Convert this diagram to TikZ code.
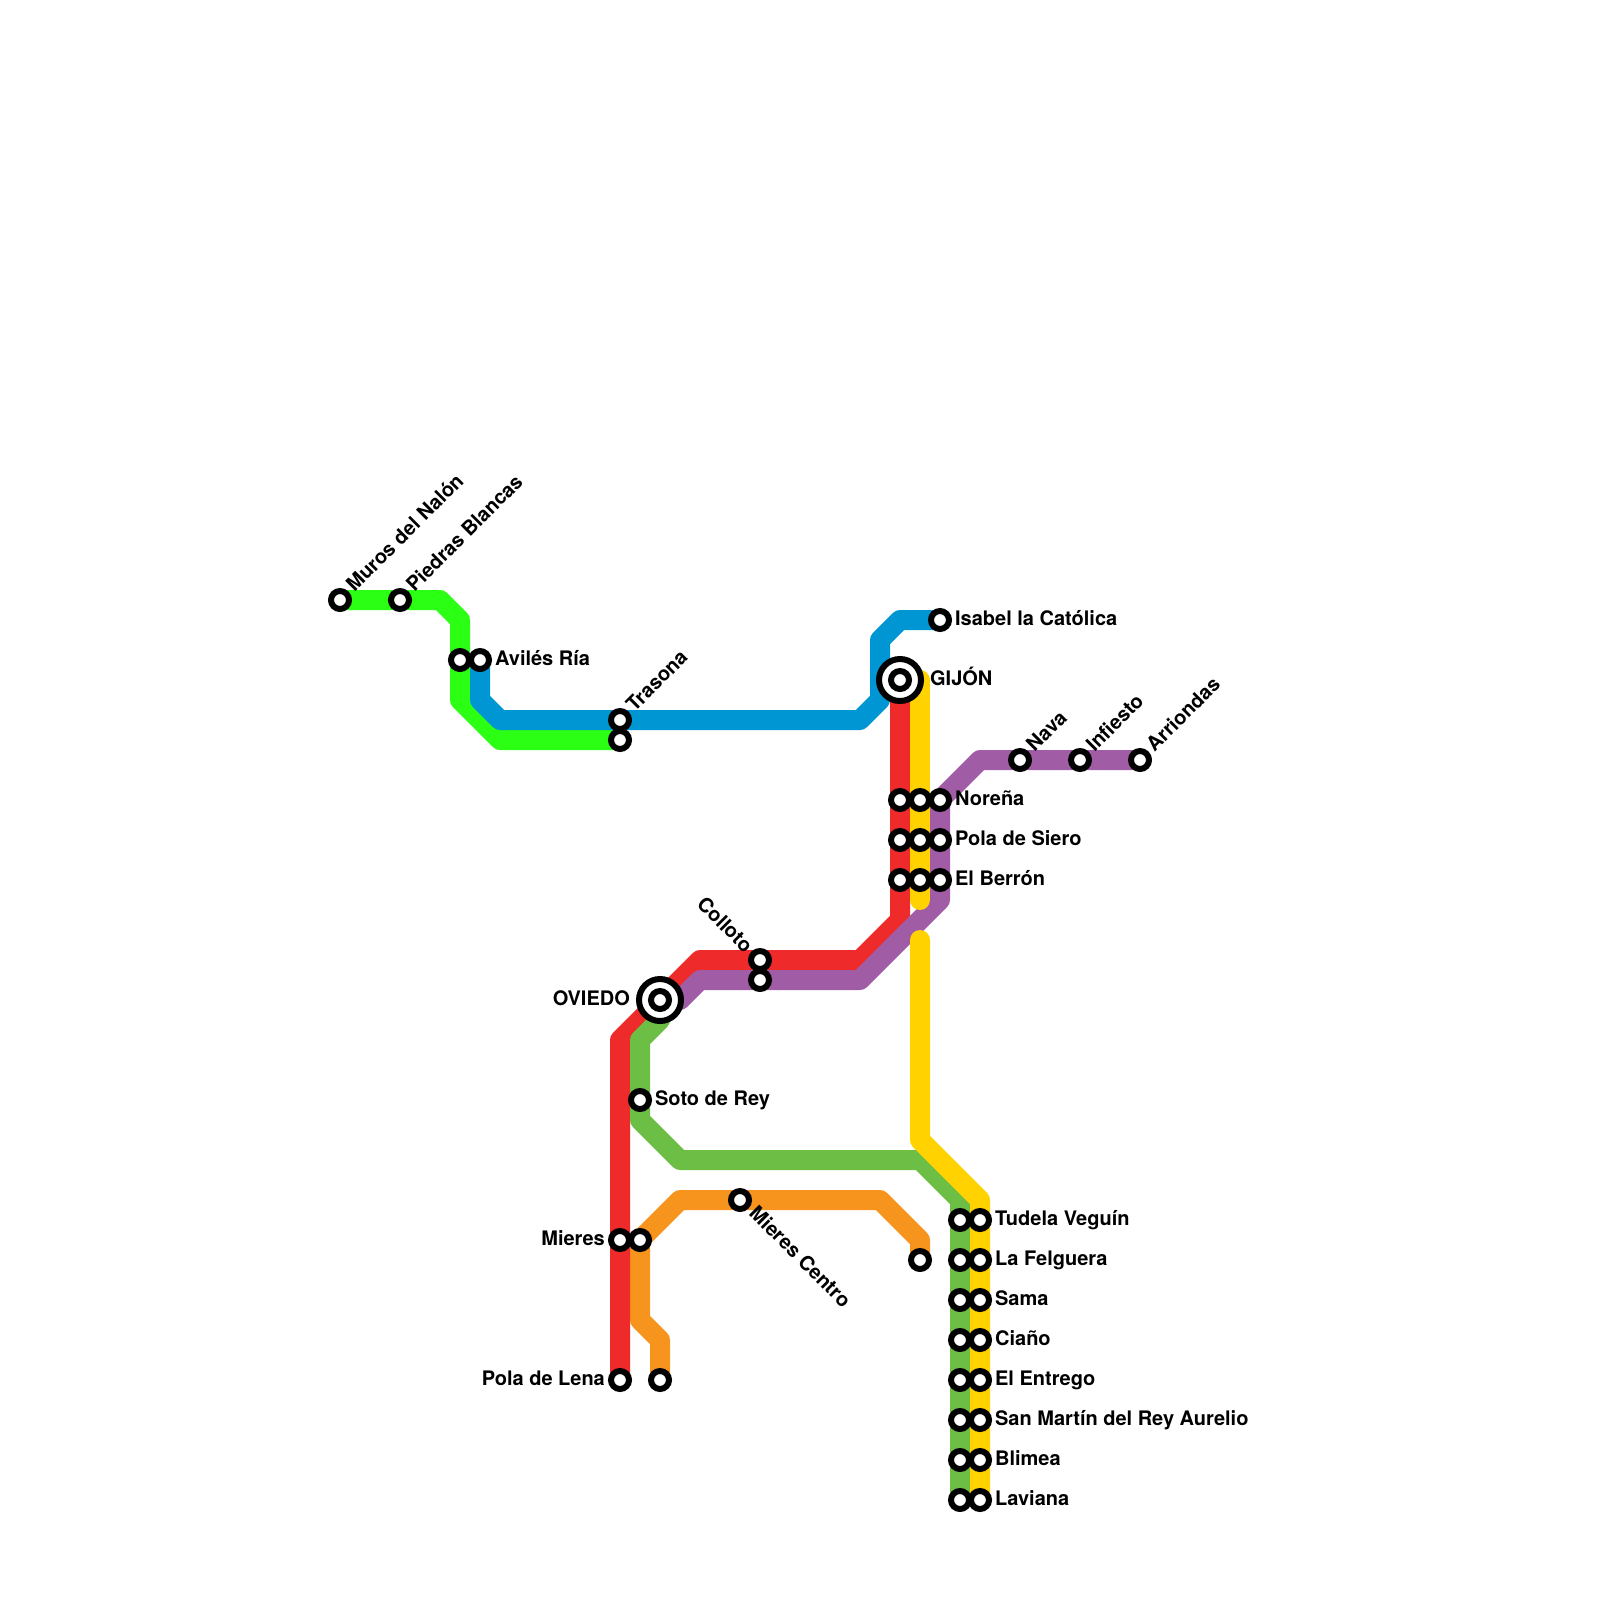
\documentclass[tikz,border=0pt]{standalone}
\usepackage{fontspec}
\setmainfont{TeX Gyre Heros}
\usetikzlibrary{backgrounds}
\definecolor{linelime}{HTML}{2BFF14}
\definecolor{lineblue}{HTML}{0095D3}
\definecolor{linered}{HTML}{EE2A2A}
\definecolor{linepurple}{HTML}{A05DA5}
\definecolor{linegreen}{HTML}{6CBE45}
\definecolor{lineyellow}{HTML}{FFD200}
\definecolor{lineorange}{HTML}{F7941D}
\tikzset{
  metro/.style={line width=1cm, line join=round, line cap=round},
  stn/.style={circle, draw=black, fill=white, line width=0.3cm, minimum size=0.9cm, inner sep=0pt},
  hub/.style={circle, draw=black, fill=white, line width=0.3cm, minimum size=2.1cm, inner sep=0pt},
  lbl/.style={inner sep=0pt, font=\fontsize{28.45}{32}\selectfont\bfseries},
  lblr/.style={lbl, anchor=base west, xshift=0.75cm, yshift=-0.25cm},
  lbll/.style={lbl, anchor=base east, xshift=-0.75cm, yshift=-0.25cm},
  lblne/.style={lbl, anchor=base west, rotate=45, xshift=0.77cm, yshift=-0.26cm},
  lblse/.style={lbl, anchor=base west, rotate=-45, xshift=0.79cm, yshift=-0.22cm},
  lblnw/.style={lbl, anchor=base east, rotate=-45, xshift=-0.77cm, yshift=-0.33cm},
}
\begin{document}
\begin{tikzpicture}[x=1cm, y=-1cm]
  \useasboundingbox (0,0) rectangle (80,80);
  % Place the interchange rings
  \node[hub] (gijonhub) at (45,34) {};
  \node[hub] (oviedohub) at (33,50) {};
  % Place the stations
  \node[stn] (muros) at (17,30) {};
  \node[stn] (piedras) at (20,30) {};
  \node[stn] (avileslime) at (23,33) {};
  \node[stn] (aviles) at (24,33) {};
  \node[stn] (trasona) at (31,36) {};
  \node[stn] (trasonalime) at (31,37) {};
  \node[stn] (isabel) at (47,31) {};
  \node[stn] (gijon) at (45,34) {};
  \node[stn] (nava) at (51,38) {};
  \node[stn] (infiesto) at (54,38) {};
  \node[stn] (arriondas) at (57,38) {};
  \node[stn] (norenared) at (45,40) {};
  \node[stn] (norenayellow) at (46,40) {};
  \node[stn] (norena) at (47,40) {};
  \node[stn] (polared) at (45,42) {};
  \node[stn] (polayellow) at (46,42) {};
  \node[stn] (pola) at (47,42) {};
  \node[stn] (berronred) at (45,44) {};
  \node[stn] (berronyellow) at (46,44) {};
  \node[stn] (berron) at (47,44) {};
  \node[stn] (colloto) at (38,48) {};
  \node[stn] (collotopurple) at (38,49) {};
  \node[stn] (oviedo) at (33,50) {};
  \node[stn] (soto) at (32,55) {};
  \node[stn] (mierescentro) at (37,60) {};
  \node[stn] (mieres) at (31,62) {};
  \node[stn] (mieresorange) at (32,62) {};
  \node[stn] (felgueraorange) at (46,63) {};
  \node[stn] (lena) at (31,69) {};
  \node[stn] (lenaorange) at (33,69) {};
  \node[stn] (tudelagreen) at (48,61) {};
  \node[stn] (tudela) at (49,61) {};
  \node[stn] (felgueragreen) at (48,63) {};
  \node[stn] (felguera) at (49,63) {};
  \node[stn] (samagreen) at (48,65) {};
  \node[stn] (sama) at (49,65) {};
  \node[stn] (cianogreen) at (48,67) {};
  \node[stn] (ciano) at (49,67) {};
  \node[stn] (entregogreen) at (48,69) {};
  \node[stn] (entrego) at (49,69) {};
  \node[stn] (martingreen) at (48,71) {};
  \node[stn] (martin) at (49,71) {};
  \node[stn] (blimeagreen) at (48,73) {};
  \node[stn] (blimea) at (49,73) {};
  \node[stn] (lavianagreen) at (48,75) {};
  \node[stn] (laviana) at (49,75) {};
  % Free line ends
  \coordinate (yellowtop) at (46,34);
  \coordinate (yellowgapa) at (46,45);
  \coordinate (yellowgapb) at (46,47);
  % Draw the lines under the stations
  \begin{scope}[on background layer]
    \draw[metro, linelime] (muros.center) -- (22,30) -- (23,31) -- (23,35) -- (25,37) -- (trasonalime.center);
    \draw[metro, lineblue] (aviles.center) -- (24,35) -- (25,36) -- (43,36) -- (44,35) -- (44,32) -- (45,31) -- (isabel.center);
    \draw[metro, lineorange] (lenaorange.center) -- (33,67) -- (32,66) -- (32,62) -- (34,60) -- (44,60) -- (46,62) -- (felgueraorange.center);
    \draw[metro, linered] (gijon.center) -- (45,46) -- (43,48) -- (35,48) -- (31,52) -- (lena.center);
    \draw[metro, linepurple] (arriondas.center) -- (49,38) -- (47,40) -- (47,45) -- (43,49) -- (35,49) -- (34,50) -- (oviedo.center);
    \draw[metro, linegreen] (oviedo.center) -- (33,51) -- (32,52) -- (32,56) -- (34,58) -- (46,58) -- (48,60) -- (lavianagreen.center);
    \draw[metro, lineyellow] (yellowtop) -- (yellowgapa);
    \draw[metro, lineyellow] (yellowgapb) -- (46,57) -- (49,60) -- (laviana.center);
  \end{scope}
  % Place the labels
  \node[lblne] (muroslbl) at (muros) {Muros del Nalón};
  \node[lblne] (piedraslbl) at (piedras) {Piedras Blancas};
  \node[lblr] (avileslbl) at (aviles) {Avilés Ría};
  \node[lblne] (trasonalbl) at (trasona) {Trasona};
  \node[lblr] (isabellbl) at (isabel) {Isabel la Católica};
  \node[lblr, xshift=0.75cm] (gijonlbl) at (gijon) {GIJÓN};
  \node[lblne] (navalbl) at (nava) {Nava};
  \node[lblne] (infiestolbl) at (infiesto) {Infiesto};
  \node[lblne] (arriondaslbl) at (arriondas) {Arriondas};
  \node[lblr] (norenalbl) at (norena) {Noreña};
  \node[lblr] (polalbl) at (pola) {Pola de Siero};
  \node[lblr] (berronlbl) at (berron) {El Berrón};
  \node[lblnw] (collotolbl) at (colloto) {Colloto};
  \node[lbll, xshift=-0.75cm] (oviedolbl) at (oviedo) {OVIEDO};
  \node[lblr] (sotolbl) at (soto) {Soto de Rey};
  \node[lblse] (mierescentrolbl) at (mierescentro) {Mieres Centro};
  \node[lbll] (miereslbl) at (mieres) {Mieres};
  \node[lbll] (lenalbl) at (lena) {Pola de Lena};
  \node[lblr] (tudelalbl) at (tudela) {Tudela Veguín};
  \node[lblr] (felgueralbl) at (felguera) {La Felguera};
  \node[lblr] (samalbl) at (sama) {Sama};
  \node[lblr] (cianolbl) at (ciano) {Ciaño};
  \node[lblr] (entregolbl) at (entrego) {El Entrego};
  \node[lblr] (martinlbl) at (martin) {San Martín del Rey Aurelio};
  \node[lblr] (blimealbl) at (blimea) {Blimea};
  \node[lblr] (lavianalbl) at (laviana) {Laviana};
\end{tikzpicture}
\end{document}
